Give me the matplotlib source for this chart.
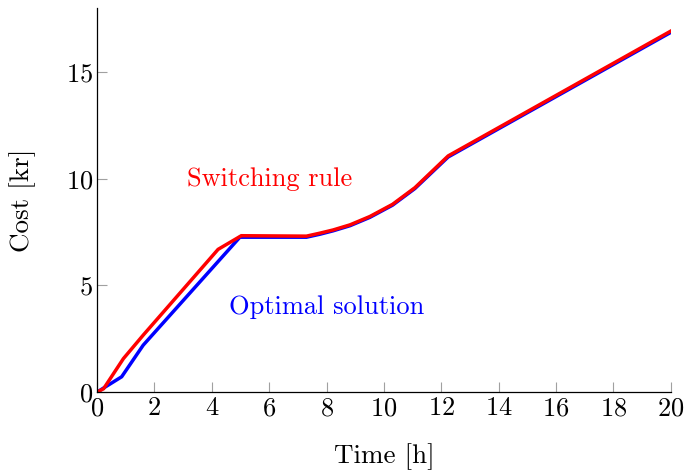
import matplotlib.pyplot as plt

plt.rcParams['font.family'] = 'cmr10'
plt.rcParams['mathtext.fontset'] = 'cm'
plt.rcParams['axes.formatter.use_mathtext'] = True

# cost curves, time in hours and cost in kr
t_switch = [0, 0.23, 0.92, 1.61, 4.22, 5.03, 7.3, 7.77, 8.23, 8.82, 9.51, 10.3, 11.08, 12.24, 20]
c_switch = [0, 0.16, 1.57, 2.67, 6.69, 7.33, 7.31, 7.45, 7.6, 7.84, 8.23, 8.8, 9.58, 11.07, 16.92]

t_opt = [0, 0.86, 1.61, 4.98, 7.3, 7.77, 8.23, 8.82, 9.51, 10.3, 11.08, 12.24, 20]
c_opt = [0, 0.72, 2.2, 7.26, 7.26, 7.4, 7.56, 7.8, 8.19, 8.76, 9.54, 11.02, 16.86]

xticks = list(range(0, 21, 2))
yticks = [0, 5, 10, 15]

fig = plt.figure(figsize=(6.88, 4.73), dpi=100)
ax = fig.add_axes([0.141, 0.171, 0.834, 0.812])

ax.plot(t_opt, c_opt, color=(0, 0, 1), lw=2.5, solid_joinstyle='miter')
ax.plot(t_switch, c_switch, color=(1, 0, 0), lw=2.5, solid_joinstyle='miter')

ax.text(6, 10, 'Switching rule', color=(1, 0, 0), fontsize=19, ha='center', va='center')
ax.text(8, 4, 'Optimal solution', color=(0, 0, 1), fontsize=19, ha='center', va='center')

ax.set_xlim(0, 20)
ax.set_ylim(0, 18)
ax.set_xticks(xticks)
ax.set_yticks(yticks)
ax.spines['top'].set_visible(False)
ax.spines['right'].set_visible(False)
for s in ('left', 'bottom'):
    ax.spines[s].set_linewidth(0.9)
ax.tick_params(direction='in', length=7, width=0.8, color='#a0a0a0',
               labelsize=19, pad=3)
ax.set_xlabel('Time [h]', fontsize=19.5, labelpad=17)
ax.set_ylabel('Cost [kr]', fontsize=19.5, labelpad=21)

fig.savefig('out.png', dpi=100)
